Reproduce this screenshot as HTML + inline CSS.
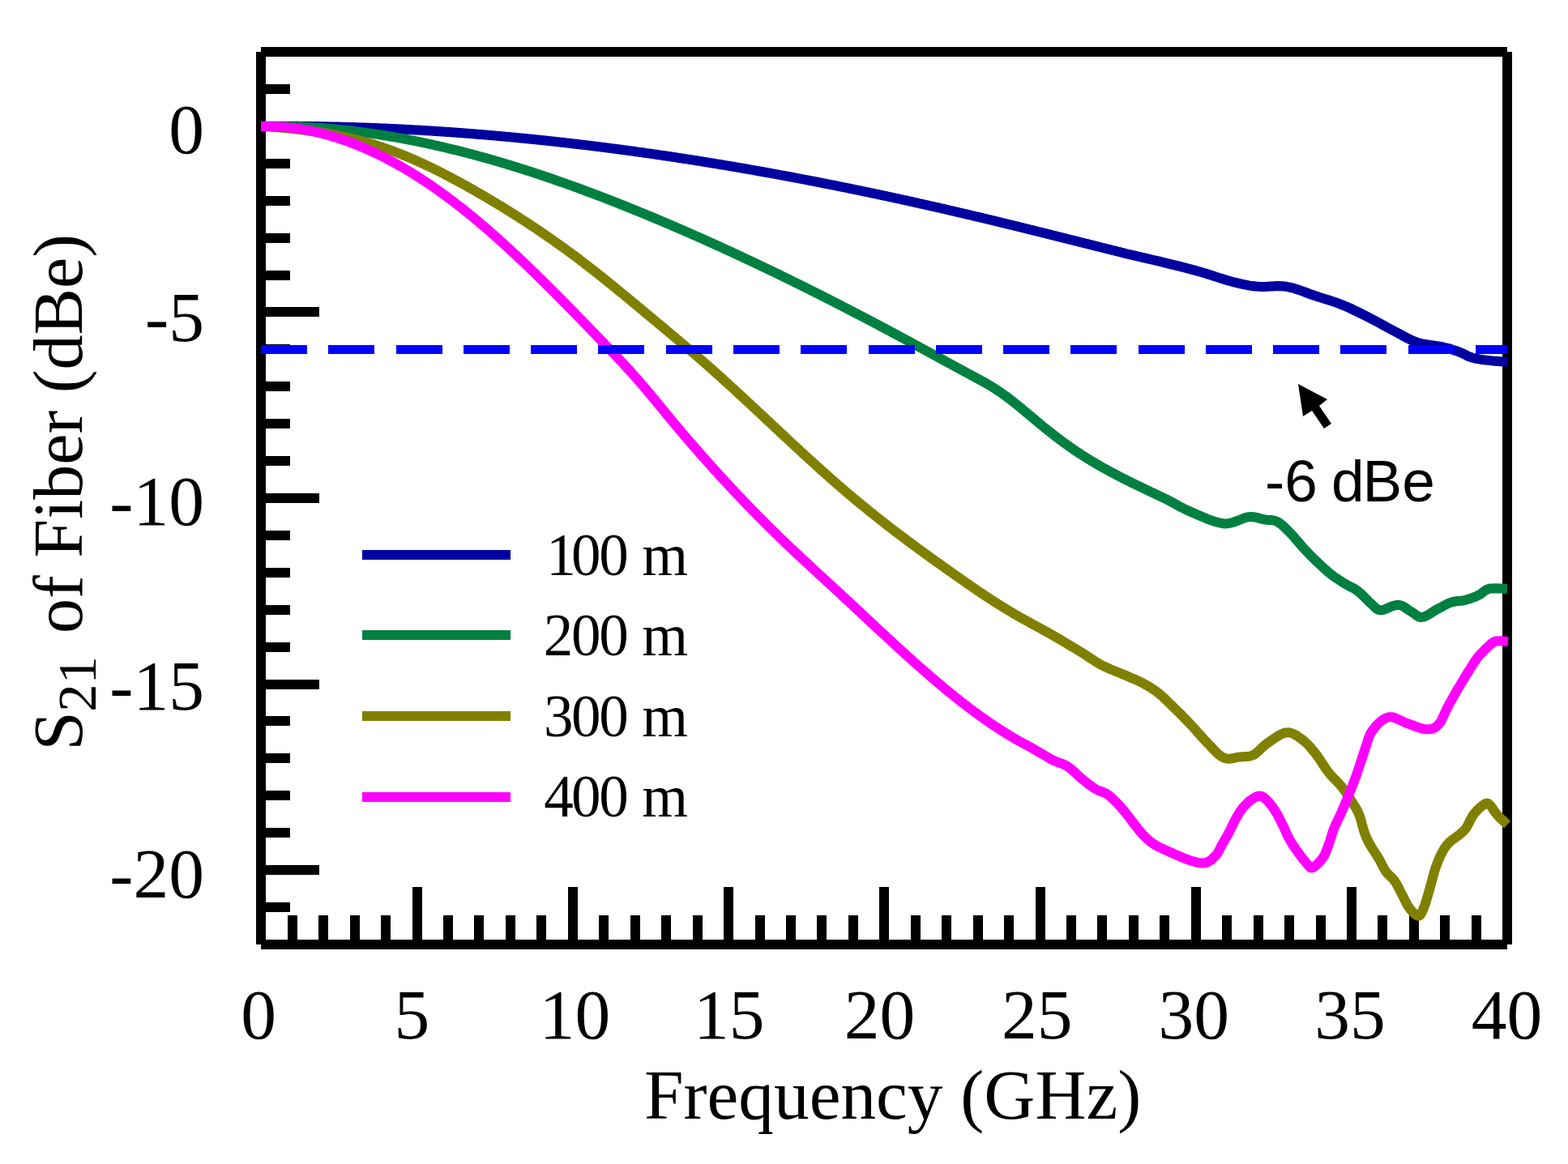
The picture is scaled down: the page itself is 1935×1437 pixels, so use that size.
<!DOCTYPE html>
<html><head><meta charset="utf-8"><title>S21 of Fiber</title>
<style>html,body{margin:0;padding:0;background:#fff;width:1935px;height:1437px;overflow:hidden}svg{display:block}</style>
</head><body>
<svg width="1935" height="1437" viewBox="0 0 1935 1437">
<path d="M322,110H358 M322,156H394 M322,202H358 M322,248H358 M322,294H358 M322,340H358 M322,385H394 M322,431H358 M322,477H358 M322,523H358 M322,569H358 M322,615H394 M322,661H358 M322,707H358 M322,753H358 M322,799H358 M322,845H394 M322,890H358 M322,936H358 M322,982H358 M322,1028H358 M322,1074H394 M322,1120H358 M361,1166V1130 M399,1166V1130 M438,1166V1130 M476,1166V1130 M515,1166V1095 M553,1166V1130 M591,1166V1130 M630,1166V1130 M668,1166V1130 M707,1166V1095 M745,1166V1130 M784,1166V1130 M822,1166V1130 M861,1166V1130 M899,1166V1095 M938,1166V1130 M976,1166V1130 M1014,1166V1130 M1053,1166V1130 M1091,1166V1095 M1130,1166V1130 M1168,1166V1130 M1207,1166V1130 M1245,1166V1130 M1284,1166V1095 M1322,1166V1130 M1360,1166V1130 M1399,1166V1130 M1437,1166V1130 M1476,1166V1095 M1514,1166V1130 M1553,1166V1130 M1591,1166V1130 M1630,1166V1130 M1668,1166V1095 M1706,1166V1130 M1745,1166V1130 M1783,1166V1130 M1822,1166V1130" stroke="#000" stroke-width="12" fill="none"/>
<path d="M322,64H1860M322,1166H1860M322,64V1166M1860,64V1166" stroke="#000" stroke-width="12" fill="none" stroke-linecap="butt"/>
<path d="M322.0,155.9 L322.9,155.9 L324.1,155.9 L325.5,155.9 L327.0,155.9 L328.6,155.9 L330.0,155.8 L331.3,155.8 L332.7,155.8 L334.0,155.8 L335.3,155.8 L336.7,155.8 L338.0,155.8 L339.3,155.8 L340.7,155.8 L342.0,155.8 L343.3,155.8 L344.7,155.8 L346.0,155.8 L347.3,155.8 L348.7,155.8 L350.0,155.8 L351.3,155.8 L352.7,155.8 L354.0,155.8 L355.3,155.8 L356.7,155.8 L358.0,155.8 L359.3,155.8 L360.7,155.8 L362.0,155.8 L363.3,155.8 L364.7,155.8 L366.0,155.8 L367.3,155.8 L368.7,155.9 L370.0,155.9 L371.3,155.9 L372.7,155.9 L374.0,155.9 L375.3,155.9 L376.7,155.9 L378.0,155.9 L379.3,155.9 L380.7,156.0 L382.0,156.0 L383.3,156.0 L384.7,156.0 L386.0,156.0 L387.3,156.0 L388.7,156.1 L390.0,156.1 L391.3,156.1 L392.7,156.1 L394.0,156.1 L395.3,156.2 L396.7,156.2 L398.0,156.2 L399.3,156.2 L400.7,156.3 L402.0,156.3 L403.3,156.3 L404.7,156.3 L406.0,156.4 L407.3,156.4 L408.7,156.4 L410.0,156.4 L411.3,156.5 L412.7,156.5 L414.0,156.5 L415.3,156.6 L416.7,156.6 L418.0,156.6 L419.3,156.7 L420.7,156.7 L422.0,156.7 L423.3,156.8 L424.7,156.8 L426.0,156.8 L427.3,156.9 L428.7,156.9 L430.0,156.9 L431.3,157.0 L432.7,157.0 L434.0,157.1 L435.3,157.1 L436.7,157.1 L438.0,157.2 L439.3,157.2 L440.7,157.3 L442.0,157.3 L443.3,157.4 L444.7,157.4 L446.0,157.4 L447.3,157.5 L448.7,157.5 L450.0,157.6 L451.3,157.6 L452.7,157.7 L454.0,157.7 L455.3,157.8 L456.7,157.8 L458.0,157.9 L459.3,157.9 L460.7,158.0 L462.0,158.0 L463.3,158.1 L464.7,158.1 L466.0,158.2 L467.3,158.2 L468.7,158.3 L470.0,158.4 L471.3,158.4 L472.7,158.5 L474.0,158.5 L475.3,158.6 L476.7,158.6 L478.0,158.7 L479.3,158.8 L480.7,158.8 L482.0,158.9 L483.3,158.9 L484.7,159.0 L486.0,159.1 L487.3,159.1 L488.7,159.2 L490.0,159.3 L491.3,159.3 L492.7,159.4 L494.0,159.5 L495.3,159.5 L496.7,159.6 L498.0,159.7 L499.3,159.7 L500.7,159.8 L502.0,159.9 L503.3,159.9 L504.7,160.0 L506.0,160.1 L507.3,160.2 L508.7,160.2 L510.0,160.3 L511.3,160.4 L512.7,160.5 L514.0,160.5 L515.3,160.6 L516.7,160.7 L518.0,160.8 L519.3,160.8 L520.7,160.9 L522.0,161.0 L523.3,161.1 L524.7,161.2 L526.0,161.2 L527.3,161.3 L528.7,161.4 L530.0,161.5 L531.3,161.6 L532.7,161.6 L534.0,161.7 L535.3,161.8 L536.7,161.9 L538.0,162.0 L539.3,162.1 L540.7,162.2 L542.0,162.2 L543.3,162.3 L544.7,162.4 L546.0,162.5 L547.3,162.6 L548.7,162.7 L550.0,162.8 L551.3,162.9 L552.7,163.0 L554.0,163.1 L555.3,163.1 L556.7,163.2 L558.0,163.3 L559.3,163.4 L560.7,163.5 L562.0,163.6 L563.3,163.7 L564.7,163.8 L566.0,163.9 L567.3,164.0 L568.7,164.1 L570.0,164.2 L571.3,164.3 L572.7,164.4 L574.0,164.5 L575.3,164.6 L576.7,164.7 L578.0,164.8 L579.3,164.9 L580.7,165.0 L582.0,165.1 L583.3,165.2 L584.7,165.3 L586.0,165.4 L587.3,165.5 L588.7,165.7 L590.0,165.8 L591.3,165.9 L592.7,166.0 L594.0,166.1 L595.3,166.2 L596.7,166.3 L598.0,166.4 L599.3,166.5 L600.7,166.6 L602.0,166.8 L603.3,166.9 L604.7,167.0 L606.0,167.1 L607.3,167.2 L608.7,167.3 L610.0,167.4 L611.3,167.6 L612.7,167.7 L614.0,167.8 L615.3,167.9 L616.7,168.0 L618.0,168.1 L619.3,168.3 L620.7,168.4 L622.0,168.5 L623.3,168.6 L624.7,168.8 L626.0,168.9 L627.3,169.0 L628.7,169.1 L630.0,169.2 L631.3,169.4 L632.7,169.5 L634.0,169.6 L635.3,169.7 L636.7,169.9 L638.0,170.0 L639.3,170.1 L640.7,170.3 L642.0,170.4 L643.3,170.5 L644.7,170.6 L646.0,170.8 L647.3,170.9 L648.7,171.0 L650.0,171.2 L651.3,171.3 L652.7,171.4 L654.0,171.6 L655.3,171.7 L656.7,171.8 L658.0,172.0 L659.3,172.1 L660.7,172.2 L662.0,172.4 L663.3,172.5 L664.7,172.7 L666.0,172.8 L667.3,172.9 L668.7,173.1 L670.0,173.2 L671.3,173.4 L672.7,173.5 L674.0,173.6 L675.3,173.8 L676.7,173.9 L678.0,174.1 L679.3,174.2 L680.7,174.4 L682.0,174.5 L683.3,174.6 L684.7,174.8 L686.0,174.9 L687.3,175.1 L688.7,175.2 L690.0,175.4 L691.3,175.5 L692.7,175.7 L694.0,175.8 L695.3,176.0 L696.7,176.1 L698.0,176.3 L699.3,176.4 L700.7,176.6 L702.0,176.7 L703.3,176.9 L704.7,177.0 L706.0,177.2 L707.3,177.4 L708.7,177.5 L710.0,177.7 L711.3,177.8 L712.7,178.0 L714.0,178.1 L715.3,178.3 L716.7,178.4 L718.0,178.6 L719.3,178.8 L720.7,178.9 L722.0,179.1 L723.3,179.2 L724.7,179.4 L726.0,179.6 L727.3,179.7 L728.7,179.9 L730.0,180.1 L731.3,180.2 L732.7,180.4 L734.0,180.6 L735.3,180.7 L736.7,180.9 L738.0,181.1 L739.3,181.2 L740.7,181.4 L742.0,181.6 L743.3,181.7 L744.7,181.9 L746.0,182.1 L747.3,182.2 L748.7,182.4 L750.0,182.6 L751.3,182.7 L752.7,182.9 L754.0,183.1 L755.3,183.3 L756.7,183.4 L758.0,183.6 L759.3,183.8 L760.7,184.0 L762.0,184.1 L763.3,184.3 L764.7,184.5 L766.0,184.7 L767.3,184.8 L768.7,185.0 L770.0,185.2 L771.3,185.4 L772.7,185.6 L774.0,185.7 L775.3,185.9 L776.7,186.1 L778.0,186.3 L779.3,186.5 L780.7,186.6 L782.0,186.8 L783.3,187.0 L784.7,187.2 L786.0,187.4 L787.3,187.6 L788.7,187.8 L790.0,187.9 L791.3,188.1 L792.7,188.3 L794.0,188.5 L795.3,188.7 L796.7,188.9 L798.0,189.1 L799.3,189.3 L800.7,189.4 L802.0,189.6 L803.3,189.8 L804.7,190.0 L806.0,190.2 L807.3,190.4 L808.7,190.6 L810.0,190.8 L811.3,191.0 L812.7,191.2 L814.0,191.4 L815.3,191.6 L816.7,191.8 L818.0,192.0 L819.3,192.2 L820.7,192.3 L822.0,192.5 L823.3,192.7 L824.7,192.9 L826.0,193.1 L827.3,193.3 L828.7,193.5 L830.0,193.7 L831.3,193.9 L832.7,194.1 L834.0,194.3 L835.3,194.5 L836.7,194.8 L838.0,195.0 L839.3,195.2 L840.7,195.4 L842.0,195.6 L843.3,195.8 L844.7,196.0 L846.0,196.2 L847.3,196.4 L848.7,196.6 L850.0,196.8 L851.3,197.0 L852.7,197.2 L854.0,197.4 L855.3,197.6 L856.7,197.8 L858.0,198.1 L859.3,198.3 L860.7,198.5 L862.0,198.7 L863.3,198.9 L864.7,199.1 L866.0,199.3 L867.3,199.5 L868.7,199.8 L870.0,200.0 L871.3,200.2 L872.7,200.4 L874.0,200.6 L875.3,200.8 L876.7,201.1 L878.0,201.3 L879.3,201.5 L880.7,201.7 L882.0,201.9 L883.3,202.1 L884.7,202.4 L886.0,202.6 L887.3,202.8 L888.7,203.0 L890.0,203.2 L891.3,203.5 L892.7,203.7 L894.0,203.9 L895.3,204.1 L896.7,204.4 L898.0,204.6 L899.3,204.8 L900.7,205.0 L902.0,205.3 L903.3,205.5 L904.7,205.7 L906.0,205.9 L907.3,206.2 L908.7,206.4 L910.0,206.6 L911.3,206.9 L912.7,207.1 L914.0,207.3 L915.3,207.5 L916.7,207.8 L918.0,208.0 L919.3,208.2 L920.7,208.5 L922.0,208.7 L923.3,208.9 L924.7,209.2 L926.0,209.4 L927.3,209.6 L928.7,209.9 L930.0,210.1 L931.3,210.3 L932.7,210.6 L934.0,210.8 L935.3,211.0 L936.7,211.3 L938.0,211.5 L939.3,211.8 L940.7,212.0 L942.0,212.2 L943.3,212.5 L944.7,212.7 L946.0,213.0 L947.3,213.2 L948.7,213.4 L950.0,213.7 L951.3,213.9 L952.7,214.2 L954.0,214.4 L955.3,214.6 L956.7,214.9 L958.0,215.1 L959.3,215.4 L960.7,215.6 L962.0,215.9 L963.3,216.1 L964.7,216.4 L966.0,216.6 L967.3,216.9 L968.7,217.1 L970.0,217.3 L971.3,217.6 L972.7,217.8 L974.0,218.1 L975.3,218.3 L976.7,218.6 L978.0,218.8 L979.3,219.1 L980.7,219.3 L982.0,219.6 L983.3,219.9 L984.7,220.1 L986.0,220.4 L987.3,220.6 L988.7,220.9 L990.0,221.1 L991.3,221.4 L992.7,221.6 L994.0,221.9 L995.3,222.1 L996.7,222.4 L998.0,222.7 L999.3,222.9 L1000.7,223.2 L1002.0,223.4 L1003.3,223.7 L1004.7,223.9 L1006.0,224.2 L1007.3,224.5 L1008.7,224.7 L1010.0,225.0 L1011.3,225.2 L1012.7,225.5 L1014.0,225.8 L1015.3,226.0 L1016.7,226.3 L1018.0,226.6 L1019.3,226.8 L1020.7,227.1 L1022.0,227.4 L1023.3,227.6 L1024.7,227.9 L1026.0,228.1 L1027.3,228.4 L1028.7,228.7 L1030.0,228.9 L1031.3,229.2 L1032.7,229.5 L1034.0,229.7 L1035.3,230.0 L1036.7,230.3 L1038.0,230.6 L1039.3,230.8 L1040.7,231.1 L1042.0,231.4 L1043.3,231.6 L1044.7,231.9 L1046.0,232.2 L1047.3,232.5 L1048.7,232.7 L1050.0,233.0 L1051.3,233.3 L1052.7,233.5 L1054.0,233.8 L1055.3,234.1 L1056.7,234.4 L1058.0,234.6 L1059.3,234.9 L1060.7,235.2 L1062.0,235.5 L1063.3,235.7 L1064.7,236.0 L1066.0,236.3 L1067.3,236.6 L1068.7,236.9 L1070.0,237.1 L1071.3,237.4 L1072.7,237.7 L1074.0,238.0 L1075.3,238.3 L1076.7,238.5 L1078.0,238.8 L1079.3,239.1 L1080.7,239.4 L1082.0,239.7 L1083.3,240.0 L1084.7,240.2 L1086.0,240.5 L1087.3,240.8 L1088.7,241.1 L1090.0,241.4 L1091.3,241.7 L1092.7,241.9 L1094.0,242.2 L1095.3,242.5 L1096.7,242.8 L1098.0,243.1 L1099.3,243.4 L1100.7,243.7 L1102.0,244.0 L1103.3,244.2 L1104.7,244.5 L1106.0,244.8 L1107.3,245.1 L1108.7,245.4 L1110.0,245.7 L1111.3,246.0 L1112.7,246.3 L1114.0,246.6 L1115.3,246.9 L1116.7,247.1 L1118.0,247.4 L1119.3,247.7 L1120.7,248.0 L1122.0,248.3 L1123.3,248.6 L1124.7,248.9 L1126.0,249.2 L1127.3,249.5 L1128.7,249.8 L1130.0,250.1 L1131.3,250.4 L1132.7,250.7 L1134.0,251.0 L1135.3,251.3 L1136.7,251.6 L1138.0,251.9 L1139.3,252.2 L1140.7,252.5 L1142.0,252.8 L1143.3,253.1 L1144.7,253.4 L1146.0,253.7 L1147.3,254.0 L1148.7,254.3 L1150.0,254.6 L1151.3,254.9 L1152.7,255.2 L1154.0,255.5 L1155.3,255.8 L1156.7,256.1 L1158.0,256.4 L1159.3,256.7 L1160.7,257.0 L1162.0,257.3 L1163.3,257.6 L1164.7,257.9 L1166.0,258.2 L1167.3,258.5 L1168.7,258.9 L1170.0,259.2 L1171.3,259.5 L1172.7,259.8 L1174.0,260.1 L1175.3,260.4 L1176.7,260.7 L1178.0,261.0 L1179.3,261.3 L1180.7,261.6 L1182.0,261.9 L1183.3,262.3 L1184.7,262.6 L1186.0,262.9 L1187.3,263.2 L1188.7,263.5 L1190.0,263.8 L1191.3,264.1 L1192.7,264.4 L1194.0,264.8 L1195.3,265.1 L1196.7,265.4 L1198.0,265.7 L1199.3,266.0 L1200.7,266.3 L1202.0,266.6 L1203.3,267.0 L1204.7,267.3 L1206.0,267.6 L1207.3,267.9 L1208.7,268.2 L1210.0,268.5 L1211.3,268.9 L1212.7,269.2 L1214.0,269.5 L1215.3,269.8 L1216.7,270.1 L1218.0,270.5 L1219.3,270.8 L1220.7,271.1 L1222.0,271.4 L1223.3,271.7 L1224.7,272.1 L1226.0,272.4 L1227.3,272.7 L1228.7,273.0 L1230.0,273.4 L1231.3,273.7 L1232.7,274.0 L1234.0,274.3 L1235.3,274.7 L1236.7,275.0 L1238.0,275.3 L1239.3,275.6 L1240.7,275.9 L1242.0,276.3 L1243.3,276.6 L1244.7,276.9 L1246.0,277.3 L1247.3,277.6 L1248.7,277.9 L1250.0,278.2 L1251.3,278.6 L1252.7,278.9 L1254.0,279.2 L1255.3,279.5 L1256.7,279.9 L1258.0,280.2 L1259.3,280.5 L1260.7,280.9 L1262.0,281.2 L1263.3,281.5 L1264.7,281.8 L1266.0,282.2 L1267.3,282.5 L1268.7,282.8 L1270.0,283.2 L1271.3,283.5 L1272.7,283.8 L1274.0,284.1 L1275.3,284.5 L1276.7,284.8 L1278.0,285.1 L1279.3,285.5 L1280.7,285.8 L1282.0,286.1 L1283.3,286.5 L1284.7,286.8 L1286.0,287.1 L1287.3,287.5 L1288.7,287.8 L1290.0,288.1 L1291.3,288.5 L1292.7,288.8 L1294.0,289.1 L1295.3,289.4 L1296.7,289.8 L1298.0,290.1 L1299.3,290.4 L1300.7,290.8 L1302.0,291.1 L1303.3,291.4 L1304.7,291.8 L1306.0,292.1 L1307.3,292.4 L1308.7,292.8 L1310.0,293.1 L1311.3,293.4 L1312.7,293.8 L1314.0,294.1 L1315.3,294.4 L1316.7,294.8 L1318.0,295.1 L1319.3,295.5 L1320.7,295.8 L1322.0,296.1 L1323.3,296.5 L1324.7,296.8 L1326.0,297.1 L1327.3,297.5 L1328.7,297.8 L1330.0,298.1 L1331.3,298.5 L1332.7,298.8 L1334.0,299.1 L1335.3,299.5 L1336.7,299.8 L1338.0,300.1 L1339.3,300.5 L1340.7,300.8 L1342.0,301.1 L1343.3,301.5 L1344.7,301.8 L1346.0,302.1 L1347.3,302.5 L1348.7,302.8 L1350.0,303.1 L1351.3,303.5 L1352.7,303.8 L1354.0,304.2 L1355.3,304.5 L1356.7,304.8 L1358.0,305.2 L1359.3,305.5 L1360.7,305.8 L1362.0,306.2 L1363.3,306.5 L1364.7,306.8 L1366.0,307.2 L1367.3,307.5 L1368.7,307.8 L1370.0,308.2 L1371.3,308.5 L1372.7,308.8 L1374.0,309.2 L1375.3,309.5 L1376.7,309.8 L1378.0,310.2 L1379.3,310.5 L1380.7,310.8 L1382.0,311.2 L1383.3,311.5 L1384.7,311.8 L1386.0,312.2 L1387.0,312.4 L1387.6,312.6 L1388.2,312.8 L1389.2,313.0 L1391.0,313.5 L1394.0,314.2 L1398.3,315.2 L1403.6,316.4 L1409.8,317.8 L1416.5,319.3 L1423.5,321.0 L1430.7,322.7 L1438.3,324.6 L1446.5,326.6 L1455.1,328.7 L1463.7,330.9 L1472.1,333.1 L1480.0,335.3 L1487.5,337.5 L1494.7,339.8 L1501.8,342.1 L1508.6,344.3 L1515.1,346.3 L1521.3,348.0 L1527.0,349.4 L1532.3,350.7 L1537.2,351.7 L1542.1,352.6 L1547.1,353.2 L1552.4,353.8 L1558.0,354.0 L1563.7,353.8 L1569.6,353.4 L1575.5,353.1 L1581.5,353.2 L1587.5,353.8 L1593.7,355.1 L1600.0,357.0 L1606.4,359.2 L1612.7,361.5 L1618.8,363.8 L1624.7,365.8 L1630.2,367.6 L1635.5,369.2 L1640.6,370.8 L1645.6,372.4 L1650.6,374.2 L1655.7,376.1 L1660.9,378.2 L1666.0,380.5 L1671.2,383.0 L1676.4,385.5 L1681.5,388.0 L1686.7,390.6 L1691.9,393.3 L1697.0,396.0 L1702.2,398.8 L1707.4,401.7 L1712.5,404.5 L1717.7,407.2 L1722.9,410.0 L1728.0,412.8 L1733.2,415.6 L1738.4,418.3 L1743.5,420.7 L1748.7,422.7 L1754.0,424.2 L1759.4,425.2 L1764.8,426.0 L1770.1,426.7 L1775.1,427.4 L1779.7,428.2 L1783.7,429.2 L1787.4,430.1 L1790.7,431.1 L1793.9,432.2 L1797.1,433.2 L1800.4,434.4 L1803.6,435.7 L1806.6,437.2 L1809.6,438.7 L1812.8,440.2 L1816.5,441.5 L1821.0,442.7 L1826.9,443.7 L1834.1,444.6 L1841.8,445.4 L1849.2,446.0 L1855.5,446.6 L1860.0,447.0" fill="none" stroke="#0000a0" stroke-width="12" stroke-linejoin="round" stroke-linecap="butt"/>
<path d="M322.0,156.2 L322.9,156.2 L324.1,156.2 L325.5,156.2 L327.0,156.1 L328.6,156.1 L330.0,156.1 L331.3,156.1 L332.7,156.1 L334.0,156.0 L335.3,156.0 L336.7,156.0 L338.0,156.0 L339.3,156.0 L340.7,156.0 L342.0,156.0 L343.3,156.0 L344.7,156.0 L346.0,156.1 L347.3,156.1 L348.7,156.1 L350.0,156.1 L351.3,156.1 L352.7,156.1 L354.0,156.2 L355.3,156.2 L356.7,156.2 L358.0,156.2 L359.3,156.3 L360.7,156.3 L362.0,156.4 L363.3,156.4 L364.7,156.4 L366.0,156.5 L367.3,156.5 L368.7,156.6 L370.0,156.6 L371.3,156.7 L372.7,156.7 L374.0,156.8 L375.3,156.9 L376.7,156.9 L378.0,157.0 L379.3,157.0 L380.7,157.1 L382.0,157.2 L383.3,157.3 L384.7,157.3 L386.0,157.4 L387.3,157.5 L388.7,157.6 L390.0,157.7 L391.3,157.7 L392.7,157.8 L394.0,157.9 L395.3,158.0 L396.7,158.1 L398.0,158.2 L399.3,158.3 L400.7,158.4 L402.0,158.5 L403.3,158.6 L404.7,158.7 L406.0,158.8 L407.3,159.0 L408.7,159.1 L410.0,159.2 L411.3,159.3 L412.7,159.4 L414.0,159.5 L415.3,159.7 L416.7,159.8 L418.0,159.9 L419.3,160.1 L420.7,160.2 L422.0,160.3 L423.3,160.5 L424.7,160.6 L426.0,160.7 L427.3,160.9 L428.7,161.0 L430.0,161.2 L431.3,161.3 L432.7,161.5 L434.0,161.6 L435.3,161.8 L436.7,161.9 L438.0,162.1 L439.3,162.3 L440.7,162.4 L442.0,162.6 L443.3,162.8 L444.7,162.9 L446.0,163.1 L447.3,163.3 L448.7,163.5 L450.0,163.6 L451.3,163.8 L452.7,164.0 L454.0,164.2 L455.3,164.4 L456.7,164.6 L458.0,164.7 L459.3,164.9 L460.7,165.1 L462.0,165.3 L463.3,165.5 L464.7,165.7 L466.0,165.9 L467.3,166.1 L468.7,166.3 L470.0,166.5 L471.3,166.8 L472.7,167.0 L474.0,167.2 L475.3,167.4 L476.7,167.6 L478.0,167.8 L479.3,168.0 L480.7,168.3 L482.0,168.5 L483.3,168.7 L484.7,168.9 L486.0,169.2 L487.3,169.4 L488.7,169.6 L490.0,169.9 L491.3,170.1 L492.7,170.4 L494.0,170.6 L495.3,170.8 L496.7,171.1 L498.0,171.3 L499.3,171.6 L500.7,171.8 L502.0,172.1 L503.3,172.3 L504.7,172.6 L506.0,172.8 L507.3,173.1 L508.7,173.4 L510.0,173.6 L511.3,173.9 L512.7,174.2 L514.0,174.4 L515.3,174.7 L516.7,175.0 L518.0,175.2 L519.3,175.5 L520.7,175.8 L522.0,176.1 L523.3,176.4 L524.7,176.6 L526.0,176.9 L527.3,177.2 L528.7,177.5 L530.0,177.8 L531.3,178.1 L532.7,178.4 L534.0,178.7 L535.3,179.0 L536.7,179.3 L538.0,179.6 L539.3,179.9 L540.7,180.2 L542.0,180.5 L543.3,180.8 L544.7,181.1 L546.0,181.4 L547.3,181.7 L548.7,182.0 L550.0,182.3 L551.3,182.6 L552.7,183.0 L554.0,183.3 L555.3,183.6 L556.7,183.9 L558.0,184.3 L559.3,184.6 L560.7,184.9 L562.0,185.2 L563.3,185.6 L564.7,185.9 L566.0,186.2 L567.3,186.6 L568.7,186.9 L570.0,187.2 L571.3,187.6 L572.7,187.9 L574.0,188.3 L575.3,188.6 L576.7,189.0 L578.0,189.3 L579.3,189.7 L580.7,190.0 L582.0,190.4 L583.3,190.7 L584.7,191.1 L586.0,191.4 L587.3,191.8 L588.7,192.2 L590.0,192.5 L591.3,192.9 L592.7,193.3 L594.0,193.6 L595.3,194.0 L596.7,194.4 L598.0,194.7 L599.3,195.1 L600.7,195.5 L602.0,195.9 L603.3,196.2 L604.7,196.6 L606.0,197.0 L607.3,197.4 L608.7,197.8 L610.0,198.2 L611.3,198.5 L612.7,198.9 L614.0,199.3 L615.3,199.7 L616.7,200.1 L618.0,200.5 L619.3,200.9 L620.7,201.3 L622.0,201.7 L623.3,202.1 L624.7,202.5 L626.0,202.9 L627.3,203.3 L628.7,203.7 L630.0,204.1 L631.3,204.5 L632.7,204.9 L634.0,205.3 L635.3,205.8 L636.7,206.2 L638.0,206.6 L639.3,207.0 L640.7,207.4 L642.0,207.8 L643.3,208.3 L644.7,208.7 L646.0,209.1 L647.3,209.5 L648.7,210.0 L650.0,210.4 L651.3,210.8 L652.7,211.2 L654.0,211.7 L655.3,212.1 L656.7,212.5 L658.0,213.0 L659.3,213.4 L660.7,213.9 L662.0,214.3 L663.3,214.7 L664.7,215.2 L666.0,215.6 L667.3,216.1 L668.7,216.5 L670.0,217.0 L671.3,217.4 L672.7,217.9 L674.0,218.3 L675.3,218.8 L676.7,219.2 L678.0,219.7 L679.3,220.1 L680.7,220.6 L682.0,221.0 L683.3,221.5 L684.7,222.0 L686.0,222.4 L687.3,222.9 L688.7,223.4 L690.0,223.8 L691.3,224.3 L692.7,224.8 L694.0,225.2 L695.3,225.7 L696.7,226.2 L698.0,226.6 L699.3,227.1 L700.7,227.6 L702.0,228.1 L703.3,228.6 L704.7,229.0 L706.0,229.5 L707.3,230.0 L708.7,230.5 L710.0,231.0 L711.3,231.4 L712.7,231.9 L714.0,232.4 L715.3,232.9 L716.7,233.4 L718.0,233.9 L719.3,234.4 L720.7,234.9 L722.0,235.4 L723.3,235.9 L724.7,236.4 L726.0,236.9 L727.3,237.4 L728.7,237.9 L730.0,238.4 L731.3,238.9 L732.7,239.4 L734.0,239.9 L735.3,240.4 L736.7,240.9 L738.0,241.4 L739.3,241.9 L740.7,242.4 L742.0,242.9 L743.3,243.4 L744.7,243.9 L746.0,244.5 L747.3,245.0 L748.7,245.5 L750.0,246.0 L751.3,246.5 L752.7,247.0 L754.0,247.6 L755.3,248.1 L756.7,248.6 L758.0,249.1 L759.3,249.7 L760.7,250.2 L762.0,250.7 L763.3,251.2 L764.7,251.8 L766.0,252.3 L767.3,252.8 L768.7,253.3 L770.0,253.9 L771.3,254.4 L772.7,254.9 L774.0,255.5 L775.3,256.0 L776.7,256.6 L778.0,257.1 L779.3,257.6 L780.7,258.2 L782.0,258.7 L783.3,259.3 L784.7,259.8 L786.0,260.3 L787.3,260.9 L788.7,261.4 L790.0,262.0 L791.3,262.5 L792.7,263.1 L794.0,263.6 L795.3,264.2 L796.7,264.7 L798.0,265.3 L799.3,265.8 L800.7,266.4 L802.0,266.9 L803.3,267.5 L804.7,268.0 L806.0,268.6 L807.3,269.1 L808.7,269.7 L810.0,270.3 L811.3,270.8 L812.7,271.4 L814.0,271.9 L815.3,272.5 L816.7,273.1 L818.0,273.6 L819.3,274.2 L820.7,274.8 L822.0,275.3 L823.3,275.9 L824.7,276.5 L826.0,277.0 L827.3,277.6 L828.7,278.2 L830.0,278.8 L831.3,279.3 L832.7,279.9 L834.0,280.5 L835.3,281.1 L836.7,281.6 L838.0,282.2 L839.3,282.8 L840.7,283.4 L842.0,283.9 L843.3,284.5 L844.7,285.1 L846.0,285.7 L847.3,286.3 L848.7,286.8 L850.0,287.4 L851.3,288.0 L852.7,288.6 L854.0,289.2 L855.3,289.8 L856.7,290.4 L858.0,291.0 L859.3,291.5 L860.7,292.1 L862.0,292.7 L863.3,293.3 L864.7,293.9 L866.0,294.5 L867.3,295.1 L868.7,295.7 L870.0,296.3 L871.3,296.9 L872.7,297.5 L874.0,298.1 L875.3,298.7 L876.7,299.3 L878.0,299.9 L879.3,300.5 L880.7,301.1 L882.0,301.7 L883.3,302.3 L884.7,302.9 L886.0,303.5 L887.3,304.1 L888.7,304.7 L890.0,305.3 L891.3,305.9 L892.7,306.5 L894.0,307.2 L895.3,307.8 L896.7,308.4 L898.0,309.0 L899.3,309.6 L900.7,310.2 L902.0,310.8 L903.3,311.5 L904.7,312.1 L906.0,312.7 L907.3,313.3 L908.7,313.9 L910.0,314.5 L911.3,315.2 L912.7,315.8 L914.0,316.4 L915.3,317.0 L916.7,317.7 L918.0,318.3 L919.3,318.9 L920.7,319.5 L922.0,320.2 L923.3,320.8 L924.7,321.4 L926.0,322.0 L927.3,322.7 L928.7,323.3 L930.0,323.9 L931.3,324.6 L932.7,325.2 L934.0,325.8 L935.3,326.5 L936.7,327.1 L938.0,327.7 L939.3,328.4 L940.7,329.0 L942.0,329.6 L943.3,330.3 L944.7,330.9 L946.0,331.5 L947.3,332.2 L948.7,332.8 L950.0,333.5 L951.3,334.1 L952.7,334.8 L954.0,335.4 L955.3,336.0 L956.7,336.7 L958.0,337.3 L959.3,338.0 L960.7,338.6 L962.0,339.3 L963.3,339.9 L964.7,340.6 L966.0,341.2 L967.3,341.9 L968.7,342.5 L970.0,343.2 L971.3,343.8 L972.7,344.5 L974.0,345.1 L975.3,345.8 L976.7,346.4 L978.0,347.1 L979.3,347.8 L980.7,348.4 L982.0,349.1 L983.3,349.7 L984.7,350.4 L986.0,351.0 L987.3,351.7 L988.7,352.4 L990.0,353.0 L991.3,353.7 L992.7,354.4 L994.0,355.0 L995.3,355.7 L996.7,356.4 L998.0,357.0 L999.3,357.7 L1000.7,358.4 L1002.0,359.0 L1003.3,359.7 L1004.7,360.4 L1006.0,361.0 L1007.3,361.7 L1008.7,362.4 L1010.0,363.0 L1011.3,363.7 L1012.7,364.4 L1014.0,365.1 L1015.3,365.7 L1016.7,366.4 L1018.0,367.1 L1019.3,367.8 L1020.7,368.4 L1022.0,369.1 L1023.3,369.8 L1024.7,370.5 L1026.0,371.1 L1027.3,371.8 L1028.7,372.5 L1030.0,373.2 L1031.3,373.9 L1032.7,374.6 L1034.0,375.2 L1035.3,375.9 L1036.7,376.6 L1038.0,377.3 L1039.3,378.0 L1040.7,378.7 L1042.0,379.4 L1043.3,380.0 L1044.7,380.7 L1046.0,381.4 L1047.3,382.1 L1048.7,382.8 L1050.0,383.5 L1051.3,384.2 L1052.7,384.9 L1054.0,385.6 L1055.3,386.3 L1056.7,386.9 L1058.0,387.6 L1059.3,388.3 L1060.7,389.0 L1062.0,389.7 L1063.3,390.4 L1064.7,391.1 L1066.0,391.8 L1067.3,392.5 L1068.7,393.2 L1070.0,393.9 L1071.3,394.6 L1072.7,395.3 L1074.0,396.0 L1075.3,396.7 L1076.7,397.4 L1078.0,398.1 L1079.3,398.8 L1080.7,399.5 L1082.0,400.2 L1083.3,400.9 L1084.7,401.6 L1086.0,402.3 L1087.3,403.1 L1088.7,403.8 L1090.0,404.5 L1091.3,405.2 L1092.7,405.9 L1094.0,406.6 L1095.3,407.3 L1096.7,408.0 L1098.0,408.7 L1099.3,409.4 L1100.7,410.2 L1102.0,410.9 L1103.3,411.6 L1104.7,412.3 L1106.0,413.0 L1107.3,413.7 L1108.7,414.4 L1110.0,415.2 L1111.3,415.9 L1112.7,416.6 L1114.0,417.3 L1115.3,418.0 L1116.7,418.7 L1118.0,419.5 L1119.3,420.2 L1120.7,420.9 L1122.0,421.6 L1123.3,422.3 L1124.7,423.1 L1126.0,423.8 L1127.3,424.5 L1128.7,425.2 L1130.0,426.0 L1131.3,426.7 L1132.7,427.4 L1134.0,428.1 L1135.3,428.9 L1136.7,429.6 L1138.0,430.3 L1139.3,431.0 L1140.7,431.8 L1142.0,432.5 L1143.3,433.2 L1144.7,433.9 L1146.0,434.7 L1147.3,435.4 L1148.7,436.1 L1150.0,436.8 L1151.3,437.6 L1152.7,438.3 L1154.0,439.0 L1155.3,439.7 L1156.7,440.5 L1158.0,441.2 L1159.3,441.9 L1160.7,442.7 L1162.0,443.4 L1163.3,444.1 L1164.7,444.8 L1166.0,445.6 L1167.3,446.3 L1168.7,447.0 L1170.0,447.7 L1171.3,448.5 L1172.7,449.2 L1174.0,449.9 L1175.3,450.6 L1176.7,451.4 L1178.0,452.1 L1179.3,452.8 L1180.7,453.5 L1182.0,454.3 L1183.3,455.0 L1184.7,455.7 L1186.0,456.4 L1187.3,457.1 L1188.7,457.9 L1190.0,458.6 L1191.3,459.3 L1192.7,460.0 L1194.0,460.7 L1195.3,461.5 L1196.7,462.2 L1198.0,462.9 L1199.3,463.6 L1200.7,464.3 L1202.0,465.0 L1203.3,465.7 L1204.7,466.5 L1206.0,467.2 L1207.3,467.9 L1208.7,468.6 L1210.0,469.3 L1211.3,470.1 L1212.7,470.8 L1214.0,471.6 L1215.3,472.3 L1216.7,473.1 L1218.0,473.8 L1219.3,474.6 L1220.7,475.4 L1222.0,476.2 L1223.3,477.0 L1224.7,477.8 L1226.0,478.6 L1227.3,479.5 L1228.7,480.3 L1230.0,481.2 L1231.3,482.1 L1232.7,483.0 L1234.0,483.9 L1235.3,484.8 L1236.7,485.7 L1238.0,486.7 L1239.3,487.7 L1240.7,488.6 L1242.0,489.6 L1243.3,490.6 L1244.7,491.6 L1246.0,492.6 L1247.3,493.7 L1248.7,494.7 L1250.0,495.7 L1251.3,496.8 L1252.7,497.9 L1254.0,498.9 L1255.3,500.0 L1256.7,501.1 L1258.0,502.2 L1259.3,503.2 L1260.7,504.3 L1262.0,505.4 L1263.3,506.6 L1264.7,507.7 L1266.0,508.8 L1267.3,509.9 L1268.7,511.0 L1270.0,512.1 L1271.3,513.2 L1272.7,514.4 L1274.0,515.5 L1275.3,516.6 L1276.7,517.7 L1278.0,518.8 L1279.3,519.9 L1280.7,521.0 L1282.0,522.2 L1283.3,523.3 L1284.7,524.4 L1286.0,525.5 L1287.3,526.6 L1288.7,527.7 L1290.0,528.7 L1291.3,529.8 L1292.7,530.9 L1294.0,532.0 L1295.3,533.0 L1296.7,534.1 L1298.0,535.1 L1299.3,536.2 L1300.7,537.2 L1302.0,538.2 L1303.3,539.3 L1304.7,540.3 L1306.0,541.3 L1307.3,542.3 L1308.7,543.3 L1310.0,544.3 L1311.3,545.3 L1312.7,546.3 L1314.0,547.2 L1315.3,548.2 L1316.7,549.1 L1318.0,550.1 L1319.3,551.0 L1320.7,552.0 L1322.0,552.9 L1323.3,553.8 L1324.7,554.8 L1326.0,555.7 L1327.3,556.6 L1328.7,557.5 L1330.0,558.3 L1331.3,559.2 L1332.7,560.1 L1334.0,561.0 L1335.3,561.8 L1336.7,562.7 L1338.0,563.5 L1339.3,564.4 L1340.7,565.2 L1342.0,566.0 L1343.3,566.9 L1344.7,567.7 L1346.0,568.5 L1347.3,569.3 L1348.7,570.1 L1350.0,570.9 L1351.3,571.7 L1352.7,572.5 L1354.0,573.2 L1355.3,574.0 L1356.7,574.8 L1358.0,575.5 L1359.3,576.3 L1360.7,577.0 L1362.0,577.8 L1363.3,578.5 L1364.7,579.3 L1366.0,580.0 L1367.3,580.7 L1368.7,581.5 L1370.0,582.2 L1371.3,582.9 L1372.7,583.6 L1374.0,584.3 L1375.3,585.0 L1376.7,585.7 L1378.0,586.4 L1379.3,587.1 L1380.7,587.8 L1382.0,588.5 L1383.3,589.2 L1384.7,589.9 L1386.0,590.6 L1387.3,591.2 L1388.7,591.9 L1390.0,592.6 L1391.3,593.3 L1392.7,593.9 L1394.0,594.6 L1395.3,595.2 L1396.7,595.9 L1398.0,596.6 L1399.3,597.2 L1400.7,597.9 L1402.0,598.5 L1403.3,599.2 L1404.7,599.8 L1406.0,600.5 L1407.3,601.1 L1408.7,601.7 L1410.0,602.4 L1411.3,603.0 L1412.7,603.7 L1414.0,604.3 L1415.3,604.9 L1416.7,605.6 L1418.0,606.2 L1419.3,606.8 L1420.7,607.5 L1422.0,608.1 L1423.3,608.7 L1424.7,609.4 L1426.0,610.0 L1427.3,610.6 L1428.7,611.3 L1430.0,611.9 L1431.3,612.6 L1432.7,613.2 L1434.0,613.8 L1435.1,614.3 L1436.0,614.7 L1436.8,615.1 L1437.9,615.6 L1439.6,616.4 L1442.0,617.7 L1445.2,619.4 L1449.0,621.5 L1453.3,623.9 L1458.0,626.4 L1463.2,629.0 L1468.7,631.5 L1474.9,634.2 L1481.8,637.2 L1489.1,640.3 L1496.5,643.1 L1503.5,645.2 L1510.0,646.4 L1515.9,646.2 L1521.5,645.0 L1526.9,643.0 L1531.9,641.0 L1536.6,639.2 L1541.0,638.2 L1544.9,638.1 L1548.3,638.4 L1551.4,639.1 L1554.3,639.9 L1557.1,640.7 L1560.0,641.3 L1562.9,641.7 L1565.7,641.9 L1568.4,642.0 L1571.1,642.4 L1573.8,643.0 L1576.5,644.2 L1579.2,645.9 L1582.0,648.0 L1584.7,650.4 L1587.5,653.1 L1590.2,655.9 L1593.0,658.7 L1595.8,661.6 L1598.5,664.8 L1601.3,668.1 L1604.1,671.4 L1606.8,674.6 L1609.6,677.7 L1612.4,680.6 L1615.1,683.5 L1617.8,686.3 L1620.6,689.0 L1623.3,691.7 L1626.1,694.3 L1628.9,696.9 L1631.6,699.5 L1634.4,702.0 L1637.2,704.5 L1639.9,706.9 L1642.7,709.1 L1645.5,711.2 L1648.2,713.2 L1651.0,715.0 L1653.7,716.8 L1656.4,718.6 L1659.2,720.3 L1662.0,721.9 L1664.7,723.4 L1667.5,724.8 L1670.3,726.2 L1673.0,727.9 L1675.8,729.8 L1678.6,732.1 L1681.5,734.9 L1684.4,737.8 L1687.2,740.6 L1689.8,743.3 L1692.3,745.5 L1694.4,747.4 L1696.2,749.2 L1697.8,750.8 L1699.5,752.1 L1701.5,752.9 L1703.9,753.3 L1707.0,752.9 L1710.5,751.6 L1714.3,749.9 L1718.2,748.3 L1722.0,747.1 L1725.4,746.7 L1728.5,747.3 L1731.4,748.5 L1734.2,750.2 L1736.8,752.1 L1739.4,753.9 L1741.9,755.4 L1744.2,756.8 L1746.3,758.4 L1748.3,759.9 L1750.3,761.2 L1752.6,761.9 L1755.1,762.0 L1758.1,761.2 L1761.4,759.6 L1764.8,757.6 L1768.4,755.3 L1771.8,753.1 L1775.0,751.3 L1777.9,749.8 L1780.8,748.3 L1783.5,746.8 L1786.1,745.5 L1788.8,744.4 L1791.5,743.4 L1794.2,742.7 L1797.0,742.3 L1799.7,742.0 L1802.5,741.8 L1805.2,741.5 L1808.0,740.9 L1810.8,740.1 L1813.7,739.2 L1816.5,738.2 L1819.3,737.1 L1822.0,736.0 L1824.6,734.8 L1826.9,733.5 L1828.9,732.0 L1830.8,730.4 L1832.9,728.9 L1835.1,727.7 L1837.8,726.8 L1841.2,726.4 L1845.4,726.3 L1849.7,726.4 L1853.9,726.6 L1857.5,726.9 L1860.0,727.0" fill="none" stroke="#008040" stroke-width="12" stroke-linejoin="round" stroke-linecap="butt"/>
<path d="M322.0,155.8 L322.9,155.8 L324.1,155.9 L325.5,156.0 L327.0,156.1 L328.6,156.2 L330.0,156.3 L331.3,156.4 L332.7,156.5 L334.0,156.6 L335.3,156.7 L336.7,156.8 L338.0,156.9 L339.3,157.0 L340.7,157.1 L342.0,157.2 L343.3,157.3 L344.7,157.5 L346.0,157.6 L347.3,157.7 L348.7,157.8 L350.0,157.9 L351.3,158.0 L352.7,158.2 L354.0,158.3 L355.3,158.4 L356.7,158.6 L358.0,158.7 L359.3,158.8 L360.7,159.0 L362.0,159.1 L363.3,159.2 L364.7,159.4 L366.0,159.5 L367.3,159.7 L368.7,159.8 L370.0,160.0 L371.3,160.2 L372.7,160.3 L374.0,160.5 L375.3,160.6 L376.7,160.8 L378.0,161.0 L379.3,161.2 L380.7,161.3 L382.0,161.5 L383.3,161.7 L384.7,161.9 L386.0,162.1 L387.3,162.3 L388.7,162.4 L390.0,162.6 L391.3,162.8 L392.7,163.0 L394.0,163.3 L395.3,163.5 L396.7,163.7 L398.0,163.9 L399.3,164.1 L400.7,164.3 L402.0,164.6 L403.3,164.8 L404.7,165.0 L406.0,165.2 L407.3,165.5 L408.7,165.7 L410.0,166.0 L411.3,166.2 L412.7,166.5 L414.0,166.7 L415.3,167.0 L416.7,167.3 L418.0,167.5 L419.3,167.8 L420.7,168.1 L422.0,168.4 L423.3,168.6 L424.7,168.9 L426.0,169.2 L427.3,169.5 L428.7,169.8 L430.0,170.1 L431.3,170.4 L432.7,170.7 L434.0,171.1 L435.3,171.4 L436.7,171.7 L438.0,172.0 L439.3,172.4 L440.7,172.7 L442.0,173.0 L443.3,173.4 L444.7,173.7 L446.0,174.1 L447.3,174.4 L448.7,174.8 L450.0,175.2 L451.3,175.5 L452.7,175.9 L454.0,176.3 L455.3,176.7 L456.7,177.1 L458.0,177.5 L459.3,177.9 L460.7,178.3 L462.0,178.7 L463.3,179.1 L464.7,179.5 L466.0,180.0 L467.3,180.4 L468.7,180.8 L470.0,181.3 L471.3,181.7 L472.7,182.2 L474.0,182.6 L475.3,183.1 L476.7,183.5 L478.0,184.0 L479.3,184.5 L480.7,185.0 L482.0,185.5 L483.3,185.9 L484.7,186.4 L486.0,186.9 L487.3,187.4 L488.7,188.0 L490.0,188.5 L491.3,189.0 L492.7,189.5 L494.0,190.0 L495.3,190.6 L496.7,191.1 L498.0,191.7 L499.3,192.2 L500.7,192.7 L502.0,193.3 L503.3,193.9 L504.7,194.4 L506.0,195.0 L507.3,195.6 L508.7,196.1 L510.0,196.7 L511.3,197.3 L512.7,197.9 L514.0,198.5 L515.3,199.1 L516.7,199.7 L518.0,200.3 L519.3,200.9 L520.7,201.5 L522.0,202.1 L523.3,202.7 L524.7,203.4 L526.0,204.0 L527.3,204.6 L528.7,205.2 L530.0,205.9 L531.3,206.5 L532.7,207.2 L534.0,207.8 L535.3,208.5 L536.7,209.1 L538.0,209.8 L539.3,210.4 L540.7,211.1 L542.0,211.8 L543.3,212.5 L544.7,213.1 L546.0,213.8 L547.3,214.5 L548.7,215.2 L550.0,215.9 L551.3,216.6 L552.7,217.2 L554.0,217.9 L555.3,218.6 L556.7,219.3 L558.0,220.1 L559.3,220.8 L560.7,221.5 L562.0,222.2 L563.3,222.9 L564.7,223.6 L566.0,224.4 L567.3,225.1 L568.7,225.8 L570.0,226.5 L571.3,227.3 L572.7,228.0 L574.0,228.7 L575.3,229.5 L576.7,230.2 L578.0,231.0 L579.3,231.7 L580.7,232.5 L582.0,233.2 L583.3,234.0 L584.7,234.7 L586.0,235.5 L587.3,236.3 L588.7,237.0 L590.0,237.8 L591.3,238.6 L592.7,239.3 L594.0,240.1 L595.3,240.9 L596.7,241.7 L598.0,242.5 L599.3,243.2 L600.7,244.0 L602.0,244.8 L603.3,245.6 L604.7,246.4 L606.0,247.2 L607.3,248.0 L608.7,248.8 L610.0,249.6 L611.3,250.4 L612.7,251.2 L614.0,252.0 L615.3,252.8 L616.7,253.6 L618.0,254.4 L619.3,255.2 L620.7,256.0 L622.0,256.9 L623.3,257.7 L624.7,258.5 L626.0,259.3 L627.3,260.2 L628.7,261.0 L630.0,261.8 L631.3,262.7 L632.7,263.5 L634.0,264.4 L635.3,265.2 L636.7,266.0 L638.0,266.9 L639.3,267.7 L640.7,268.6 L642.0,269.5 L643.3,270.3 L644.7,271.2 L646.0,272.0 L647.3,272.9 L648.7,273.8 L650.0,274.6 L651.3,275.5 L652.7,276.4 L654.0,277.3 L655.3,278.2 L656.7,279.0 L658.0,279.9 L659.3,280.8 L660.7,281.7 L662.0,282.6 L663.3,283.5 L664.7,284.4 L666.0,285.3 L667.3,286.2 L668.7,287.1 L670.0,288.0 L671.3,288.9 L672.7,289.9 L674.0,290.8 L675.3,291.7 L676.7,292.6 L678.0,293.5 L679.3,294.5 L680.7,295.4 L682.0,296.3 L683.3,297.3 L684.7,298.2 L686.0,299.2 L687.3,300.1 L688.7,301.1 L690.0,302.0 L691.3,303.0 L692.7,303.9 L694.0,304.9 L695.3,305.8 L696.7,306.8 L698.0,307.8 L699.3,308.8 L700.7,309.7 L702.0,310.7 L703.3,311.7 L704.7,312.7 L706.0,313.7 L707.3,314.6 L708.7,315.6 L710.0,316.6 L711.3,317.6 L712.7,318.6 L714.0,319.6 L715.3,320.6 L716.7,321.7 L718.0,322.7 L719.3,323.7 L720.7,324.7 L722.0,325.7 L723.3,326.8 L724.7,327.8 L726.0,328.8 L727.3,329.9 L728.7,330.9 L730.0,331.9 L731.3,333.0 L732.7,334.0 L734.0,335.1 L735.3,336.1 L736.7,337.2 L738.0,338.2 L739.3,339.3 L740.7,340.3 L742.0,341.4 L743.3,342.5 L744.7,343.5 L746.0,344.6 L747.3,345.7 L748.7,346.7 L750.0,347.8 L751.3,348.9 L752.7,350.0 L754.0,351.1 L755.3,352.1 L756.7,353.2 L758.0,354.3 L759.3,355.4 L760.7,356.5 L762.0,357.6 L763.3,358.7 L764.7,359.8 L766.0,360.9 L767.3,361.9 L768.7,363.0 L770.0,364.1 L771.3,365.2 L772.7,366.3 L774.0,367.4 L775.3,368.5 L776.7,369.6 L778.0,370.7 L779.3,371.9 L780.7,373.0 L782.0,374.1 L783.3,375.2 L784.7,376.3 L786.0,377.4 L787.3,378.5 L788.7,379.6 L790.0,380.7 L791.3,381.8 L792.7,382.9 L794.0,384.0 L795.3,385.2 L796.7,386.3 L798.0,387.4 L799.3,388.5 L800.7,389.6 L802.0,390.7 L803.3,391.8 L804.7,392.9 L806.0,394.0 L807.3,395.1 L808.7,396.3 L810.0,397.4 L811.3,398.5 L812.7,399.6 L814.0,400.7 L815.3,401.8 L816.7,402.9 L818.0,404.0 L819.3,405.2 L820.7,406.3 L822.0,407.4 L823.3,408.5 L824.7,409.6 L826.0,410.7 L827.3,411.9 L828.7,413.0 L830.0,414.1 L831.3,415.2 L832.7,416.3 L834.0,417.5 L835.3,418.6 L836.7,419.7 L838.0,420.8 L839.3,422.0 L840.7,423.1 L842.0,424.2 L843.3,425.4 L844.7,426.5 L846.0,427.6 L847.3,428.8 L848.7,429.9 L850.0,431.0 L851.3,432.2 L852.7,433.3 L854.0,434.5 L855.3,435.6 L856.7,436.8 L858.0,437.9 L859.3,439.1 L860.7,440.2 L862.0,441.4 L863.3,442.5 L864.7,443.7 L866.0,444.9 L867.3,446.0 L868.7,447.2 L870.0,448.4 L871.3,449.5 L872.7,450.7 L874.0,451.9 L875.3,453.1 L876.7,454.2 L878.0,455.4 L879.3,456.6 L880.7,457.8 L882.0,459.0 L883.3,460.2 L884.7,461.4 L886.0,462.6 L887.3,463.8 L888.7,465.0 L890.0,466.2 L891.3,467.4 L892.7,468.6 L894.0,469.8 L895.3,471.0 L896.7,472.2 L898.0,473.4 L899.3,474.6 L900.7,475.9 L902.0,477.1 L903.3,478.3 L904.7,479.5 L906.0,480.7 L907.3,482.0 L908.7,483.2 L910.0,484.4 L911.3,485.7 L912.7,486.9 L914.0,488.1 L915.3,489.3 L916.7,490.6 L918.0,491.8 L919.3,493.1 L920.7,494.3 L922.0,495.5 L923.3,496.8 L924.7,498.0 L926.0,499.2 L927.3,500.5 L928.7,501.7 L930.0,503.0 L931.3,504.2 L932.7,505.5 L934.0,506.7 L935.3,508.0 L936.7,509.2 L938.0,510.4 L939.3,511.7 L940.7,512.9 L942.0,514.2 L943.3,515.4 L944.7,516.7 L946.0,517.9 L947.3,519.2 L948.7,520.4 L950.0,521.7 L951.3,522.9 L952.7,524.2 L954.0,525.4 L955.3,526.7 L956.7,527.9 L958.0,529.2 L959.3,530.4 L960.7,531.7 L962.0,532.9 L963.3,534.2 L964.7,535.4 L966.0,536.6 L967.3,537.9 L968.7,539.1 L970.0,540.4 L971.3,541.6 L972.7,542.9 L974.0,544.1 L975.3,545.3 L976.7,546.6 L978.0,547.8 L979.3,549.1 L980.7,550.3 L982.0,551.5 L983.3,552.8 L984.7,554.0 L986.0,555.2 L987.3,556.5 L988.7,557.7 L990.0,558.9 L991.3,560.2 L992.7,561.4 L994.0,562.6 L995.3,563.8 L996.7,565.0 L998.0,566.3 L999.3,567.5 L1000.7,568.7 L1002.0,569.9 L1003.3,571.1 L1004.7,572.3 L1006.0,573.6 L1007.3,574.8 L1008.7,576.0 L1010.0,577.2 L1011.3,578.4 L1012.7,579.6 L1014.0,580.8 L1015.3,582.0 L1016.7,583.2 L1018.0,584.4 L1019.3,585.5 L1020.7,586.7 L1022.0,587.9 L1023.3,589.1 L1024.7,590.3 L1026.0,591.5 L1027.3,592.6 L1028.7,593.8 L1030.0,595.0 L1031.3,596.1 L1032.7,597.3 L1034.0,598.5 L1035.3,599.6 L1036.7,600.8 L1038.0,601.9 L1039.3,603.1 L1040.7,604.2 L1042.0,605.4 L1043.3,606.5 L1044.7,607.7 L1046.0,608.8 L1047.3,609.9 L1048.7,611.1 L1050.0,612.2 L1051.3,613.3 L1052.7,614.4 L1054.0,615.5 L1055.3,616.7 L1056.7,617.8 L1058.0,618.9 L1059.3,620.0 L1060.7,621.1 L1062.0,622.2 L1063.3,623.3 L1064.7,624.4 L1066.0,625.5 L1067.3,626.5 L1068.7,627.6 L1070.0,628.7 L1071.3,629.8 L1072.7,630.9 L1074.0,631.9 L1075.3,633.0 L1076.7,634.1 L1078.0,635.1 L1079.3,636.2 L1080.7,637.3 L1082.0,638.3 L1083.3,639.4 L1084.7,640.4 L1086.0,641.5 L1087.3,642.5 L1088.7,643.6 L1090.0,644.6 L1091.3,645.7 L1092.7,646.7 L1094.0,647.7 L1095.3,648.8 L1096.7,649.8 L1098.0,650.8 L1099.3,651.9 L1100.7,652.9 L1102.0,653.9 L1103.3,654.9 L1104.7,656.0 L1106.0,657.0 L1107.3,658.0 L1108.7,659.0 L1110.0,660.0 L1111.3,661.0 L1112.7,662.0 L1114.0,663.0 L1115.3,664.0 L1116.7,665.0 L1118.0,666.0 L1119.3,667.0 L1120.7,668.0 L1122.0,669.0 L1123.3,670.0 L1124.7,671.0 L1126.0,672.0 L1127.3,673.0 L1128.7,674.0 L1130.0,675.0 L1131.3,675.9 L1132.7,676.9 L1134.0,677.9 L1135.3,678.9 L1136.7,679.8 L1138.0,680.8 L1139.3,681.8 L1140.7,682.8 L1142.0,683.7 L1143.3,684.7 L1144.7,685.7 L1146.0,686.6 L1147.3,687.6 L1148.7,688.6 L1150.0,689.5 L1151.3,690.5 L1152.7,691.4 L1154.0,692.4 L1155.3,693.4 L1156.7,694.3 L1158.0,695.3 L1159.3,696.2 L1160.7,697.2 L1162.0,698.1 L1163.3,699.1 L1164.7,700.0 L1166.0,701.0 L1167.3,701.9 L1168.7,702.8 L1170.0,703.8 L1171.3,704.7 L1172.7,705.7 L1174.0,706.6 L1175.3,707.6 L1176.7,708.5 L1178.0,709.4 L1179.3,710.4 L1180.7,711.3 L1182.0,712.3 L1183.3,713.2 L1184.7,714.1 L1186.0,715.1 L1187.3,716.0 L1188.7,716.9 L1190.0,717.8 L1191.3,718.8 L1192.7,719.7 L1194.0,720.6 L1195.3,721.5 L1196.7,722.5 L1198.0,723.4 L1199.3,724.3 L1200.7,725.2 L1202.0,726.1 L1203.3,727.0 L1204.7,727.9 L1206.0,728.9 L1207.3,729.8 L1208.7,730.7 L1210.0,731.6 L1211.3,732.5 L1212.7,733.3 L1214.0,734.2 L1215.3,735.1 L1216.7,736.0 L1218.0,736.9 L1219.3,737.8 L1220.7,738.6 L1222.0,739.5 L1223.3,740.4 L1224.7,741.2 L1226.0,742.1 L1227.3,743.0 L1228.7,743.8 L1230.0,744.7 L1231.3,745.5 L1232.7,746.4 L1234.0,747.2 L1235.3,748.0 L1236.7,748.9 L1238.0,749.7 L1239.3,750.5 L1240.7,751.3 L1242.0,752.1 L1243.3,752.9 L1244.7,753.7 L1246.0,754.5 L1247.3,755.3 L1248.7,756.1 L1250.0,756.9 L1251.3,757.7 L1252.7,758.5 L1254.0,759.2 L1255.3,760.0 L1256.7,760.8 L1258.0,761.5 L1259.3,762.3 L1260.7,763.0 L1262.0,763.8 L1263.3,764.5 L1264.7,765.2 L1266.0,766.0 L1267.3,766.7 L1268.7,767.4 L1270.0,768.2 L1271.3,768.9 L1272.7,769.6 L1274.0,770.4 L1275.3,771.1 L1276.7,771.8 L1278.0,772.5 L1279.3,773.3 L1280.7,774.0 L1282.0,774.7 L1283.3,775.4 L1284.7,776.2 L1286.0,776.9 L1287.3,777.6 L1288.7,778.4 L1290.0,779.1 L1291.3,779.8 L1292.5,780.5 L1293.8,781.2 L1295.0,781.9 L1296.4,782.7 L1298.0,783.6 L1299.6,784.5 L1301.2,785.5 L1302.9,786.5 L1304.9,787.6 L1307.2,789.0 L1310.0,790.7 L1313.4,792.7 L1317.4,795.1 L1321.7,797.7 L1326.3,800.4 L1330.8,803.1 L1335.1,805.7 L1339.2,808.3 L1343.2,811.0 L1347.2,813.6 L1351.3,816.3 L1355.6,818.9 L1360.1,821.4 L1365.1,823.8 L1370.5,826.2 L1376.1,828.5 L1381.7,830.8 L1386.8,832.9 L1391.4,834.8 L1395.3,836.5 L1398.6,837.9 L1401.6,839.1 L1404.4,840.4 L1407.2,841.7 L1410.2,843.3 L1413.3,845.0 L1416.5,846.8 L1419.6,848.7 L1422.7,850.7 L1425.9,852.9 L1429.0,855.2 L1432.1,857.8 L1435.3,860.6 L1438.4,863.5 L1441.5,866.6 L1444.7,869.6 L1447.8,872.7 L1450.9,875.7 L1453.9,878.6 L1456.9,881.6 L1460.0,884.7 L1463.2,888.0 L1466.6,891.5 L1470.3,895.5 L1474.2,899.8 L1478.2,904.4 L1482.3,908.9 L1486.2,913.3 L1490.0,917.2 L1493.6,920.9 L1497.0,924.6 L1500.4,928.1 L1503.7,931.2 L1507.0,933.8 L1510.3,935.6 L1513.7,936.5 L1517.1,936.7 L1520.5,936.3 L1523.9,935.6 L1527.2,934.9 L1530.3,934.4 L1533.3,934.2 L1536.1,934.1 L1538.9,934.0 L1541.6,933.6 L1544.3,933.0 L1547.0,931.9 L1549.7,930.2 L1552.3,928.0 L1554.9,925.5 L1557.6,922.8 L1560.5,920.1 L1563.7,917.7 L1567.3,915.2 L1571.2,912.4 L1575.3,909.7 L1579.4,907.3 L1583.4,905.4 L1587.1,904.4 L1590.5,904.3 L1593.7,905.0 L1596.7,906.3 L1599.7,907.9 L1602.6,909.9 L1605.5,911.9 L1608.4,914.1 L1611.2,916.5 L1614.0,919.2 L1616.7,922.1 L1619.4,925.3 L1622.2,928.6 L1625.0,932.3 L1627.8,936.3 L1630.6,940.6 L1633.3,944.9 L1636.1,949.0 L1638.9,952.8 L1641.7,956.2 L1644.6,959.3 L1647.4,962.3 L1650.3,965.2 L1653.0,968.1 L1655.6,971.2 L1658.1,974.5 L1660.6,977.9 L1662.9,981.4 L1665.2,984.9 L1667.3,988.2 L1669.2,991.2 L1670.9,993.9 L1672.4,996.2 L1673.7,998.4 L1674.9,1000.6 L1676.1,1003.0 L1677.3,1005.8 L1678.5,1009.1 L1679.6,1012.8 L1680.6,1016.8 L1681.7,1020.7 L1682.7,1024.4 L1683.8,1027.7 L1684.8,1030.5 L1685.8,1033.0 L1686.8,1035.3 L1687.9,1037.5 L1689.0,1039.8 L1690.4,1042.3 L1692.0,1045.1 L1693.8,1048.0 L1695.8,1051.0 L1697.7,1054.0 L1699.6,1056.9 L1701.4,1059.8 L1703.0,1062.6 L1704.4,1065.4 L1705.8,1068.2 L1707.2,1070.9 L1708.6,1073.5 L1710.2,1075.9 L1711.9,1078.0 L1713.7,1079.9 L1715.6,1081.7 L1717.5,1083.4 L1719.3,1085.4 L1721.1,1087.6 L1722.8,1090.2 L1724.4,1093.1 L1726.0,1096.1 L1727.5,1099.2 L1729.1,1102.3 L1730.6,1105.2 L1732.1,1108.0 L1733.5,1110.9 L1734.9,1113.7 L1736.3,1116.4 L1737.8,1118.9 L1739.4,1121.2 L1741.1,1123.4 L1743.0,1125.6 L1745.0,1127.5 L1746.9,1129.2 L1748.7,1130.3 L1750.3,1130.7 L1751.6,1130.4 L1752.8,1129.5 L1753.8,1128.0 L1754.8,1126.1 L1755.8,1123.8 L1756.9,1121.2 L1758.1,1118.1 L1759.3,1114.5 L1760.5,1110.5 L1761.7,1106.3 L1763.0,1102.0 L1764.2,1097.8 L1765.4,1093.5 L1766.6,1089.0 L1767.8,1084.5 L1769.0,1079.9 L1770.2,1075.6 L1771.5,1071.5 L1772.9,1067.7 L1774.3,1063.9 L1775.8,1060.4 L1777.3,1057.0 L1778.8,1053.9 L1780.3,1051.1 L1781.7,1048.6 L1783.1,1046.4 L1784.5,1044.5 L1786.0,1042.8 L1787.5,1041.1 L1789.1,1039.4 L1790.9,1037.8 L1792.9,1036.3 L1795.0,1034.8 L1797.0,1033.4 L1799.0,1032.0 L1800.8,1030.6 L1802.4,1029.2 L1803.9,1027.9 L1805.3,1026.6 L1806.7,1025.3 L1808.1,1023.7 L1809.5,1021.8 L1810.9,1019.5 L1812.3,1016.8 L1813.7,1014.0 L1815.1,1011.1 L1816.7,1008.3 L1818.3,1005.8 L1820.1,1003.5 L1822.1,1001.2 L1824.2,999.0 L1826.3,997.1 L1828.3,995.4 L1830.0,994.1 L1831.4,993.1 L1832.7,992.3 L1833.7,991.8 L1834.8,991.6 L1836.0,991.9 L1837.3,992.6 L1838.8,994.0 L1840.4,995.9 L1842.1,998.3 L1843.8,1000.9 L1845.6,1003.5 L1847.5,1005.8 L1849.6,1008.0 L1852.0,1010.4 L1854.4,1012.7 L1856.7,1014.9 L1858.6,1016.7 L1860.0,1018.0" fill="none" stroke="#808000" stroke-width="12" stroke-linejoin="round" stroke-linecap="butt"/>
<path d="M322.0,156.2 L322.9,156.2 L324.1,156.2 L325.5,156.1 L327.0,156.1 L328.6,156.1 L330.0,156.1 L331.3,156.1 L332.7,156.1 L334.0,156.1 L335.3,156.2 L336.7,156.2 L338.0,156.2 L339.3,156.3 L340.7,156.3 L342.0,156.4 L343.3,156.5 L344.7,156.6 L346.0,156.6 L347.3,156.7 L348.7,156.8 L350.0,156.9 L351.3,157.0 L352.7,157.1 L354.0,157.3 L355.3,157.4 L356.7,157.5 L358.0,157.7 L359.3,157.8 L360.7,158.0 L362.0,158.2 L363.3,158.3 L364.7,158.5 L366.0,158.7 L367.3,158.9 L368.7,159.1 L370.0,159.3 L371.3,159.5 L372.7,159.7 L374.0,159.9 L375.3,160.1 L376.7,160.4 L378.0,160.6 L379.3,160.9 L380.7,161.1 L382.0,161.4 L383.3,161.7 L384.7,161.9 L386.0,162.2 L387.3,162.5 L388.7,162.8 L390.0,163.1 L391.3,163.4 L392.7,163.7 L394.0,164.0 L395.3,164.4 L396.7,164.7 L398.0,165.0 L399.3,165.4 L400.7,165.7 L402.0,166.1 L403.3,166.4 L404.7,166.8 L406.0,167.2 L407.3,167.6 L408.7,168.0 L410.0,168.4 L411.3,168.8 L412.7,169.2 L414.0,169.6 L415.3,170.0 L416.7,170.4 L418.0,170.8 L419.3,171.3 L420.7,171.7 L422.0,172.2 L423.3,172.6 L424.7,173.1 L426.0,173.6 L427.3,174.0 L428.7,174.5 L430.0,175.0 L431.3,175.5 L432.7,176.0 L434.0,176.5 L435.3,177.0 L436.7,177.5 L438.0,178.0 L439.3,178.6 L440.7,179.1 L442.0,179.6 L443.3,180.2 L444.7,180.7 L446.0,181.3 L447.3,181.9 L448.7,182.4 L450.0,183.0 L451.3,183.6 L452.7,184.2 L454.0,184.8 L455.3,185.4 L456.7,186.0 L458.0,186.6 L459.3,187.2 L460.7,187.8 L462.0,188.4 L463.3,189.1 L464.7,189.7 L466.0,190.3 L467.3,191.0 L468.7,191.6 L470.0,192.3 L471.3,193.0 L472.7,193.6 L474.0,194.3 L475.3,195.0 L476.7,195.7 L478.0,196.4 L479.3,197.1 L480.7,197.8 L482.0,198.5 L483.3,199.2 L484.7,199.9 L486.0,200.7 L487.3,201.4 L488.7,202.1 L490.0,202.9 L491.3,203.6 L492.7,204.4 L494.0,205.1 L495.3,205.9 L496.7,206.7 L498.0,207.5 L499.3,208.2 L500.7,209.0 L502.0,209.8 L503.3,210.6 L504.7,211.4 L506.0,212.2 L507.3,213.0 L508.7,213.9 L510.0,214.7 L511.3,215.5 L512.7,216.4 L514.0,217.2 L515.3,218.0 L516.7,218.9 L518.0,219.7 L519.3,220.6 L520.7,221.5 L522.0,222.3 L523.3,223.2 L524.7,224.1 L526.0,225.0 L527.3,225.9 L528.7,226.8 L530.0,227.7 L531.3,228.6 L532.7,229.5 L534.0,230.4 L535.3,231.3 L536.7,232.3 L538.0,233.2 L539.3,234.1 L540.7,235.1 L542.0,236.0 L543.3,237.0 L544.7,237.9 L546.0,238.9 L547.3,239.9 L548.7,240.9 L550.0,241.8 L551.3,242.8 L552.7,243.8 L554.0,244.8 L555.3,245.8 L556.7,246.8 L558.0,247.8 L559.3,248.8 L560.7,249.8 L562.0,250.8 L563.3,251.9 L564.7,252.9 L566.0,253.9 L567.3,255.0 L568.7,256.0 L570.0,257.1 L571.3,258.1 L572.7,259.2 L574.0,260.3 L575.3,261.3 L576.7,262.4 L578.0,263.5 L579.3,264.6 L580.7,265.6 L582.0,266.7 L583.3,267.8 L584.7,268.9 L586.0,270.0 L587.3,271.2 L588.7,272.3 L590.0,273.4 L591.3,274.5 L592.7,275.6 L594.0,276.8 L595.3,277.9 L596.7,279.0 L598.0,280.2 L599.3,281.3 L600.7,282.5 L602.0,283.6 L603.3,284.8 L604.7,286.0 L606.0,287.1 L607.3,288.3 L608.7,289.5 L610.0,290.7 L611.3,291.8 L612.7,293.0 L614.0,294.2 L615.3,295.4 L616.7,296.6 L618.0,297.8 L619.3,299.0 L620.7,300.2 L622.0,301.4 L623.3,302.7 L624.7,303.9 L626.0,305.1 L627.3,306.3 L628.7,307.5 L630.0,308.8 L631.3,310.0 L632.7,311.3 L634.0,312.5 L635.3,313.7 L636.7,315.0 L638.0,316.2 L639.3,317.5 L640.7,318.8 L642.0,320.0 L643.3,321.3 L644.7,322.5 L646.0,323.8 L647.3,325.1 L648.7,326.4 L650.0,327.6 L651.3,328.9 L652.7,330.2 L654.0,331.5 L655.3,332.8 L656.7,334.1 L658.0,335.4 L659.3,336.7 L660.7,337.9 L662.0,339.2 L663.3,340.6 L664.7,341.9 L666.0,343.2 L667.3,344.5 L668.7,345.8 L670.0,347.1 L671.3,348.4 L672.7,349.7 L674.0,351.1 L675.3,352.4 L676.7,353.7 L678.0,355.0 L679.3,356.4 L680.7,357.7 L682.0,359.0 L683.3,360.4 L684.7,361.7 L686.0,363.0 L687.3,364.4 L688.7,365.7 L690.0,367.1 L691.3,368.4 L692.7,369.8 L694.0,371.1 L695.3,372.5 L696.7,373.8 L698.0,375.2 L699.3,376.5 L700.7,377.9 L702.0,379.2 L703.3,380.6 L704.7,381.9 L706.0,383.3 L707.3,384.7 L708.7,386.0 L710.0,387.4 L711.3,388.8 L712.7,390.1 L714.0,391.5 L715.3,392.9 L716.7,394.2 L718.0,395.6 L719.3,397.0 L720.7,398.4 L722.0,399.7 L723.3,401.1 L724.7,402.5 L726.0,403.9 L727.3,405.2 L728.7,406.6 L730.0,408.0 L731.3,409.4 L732.7,410.8 L734.0,412.1 L735.3,413.5 L736.7,414.9 L738.0,416.3 L739.3,417.7 L740.7,419.0 L742.0,420.4 L743.3,421.8 L744.7,423.2 L746.0,424.6 L747.3,426.0 L748.7,427.4 L750.0,428.7 L751.3,430.1 L752.7,431.5 L754.0,432.9 L755.3,434.3 L756.7,435.7 L758.0,437.1 L759.3,438.5 L760.7,440.0 L762.0,441.4 L763.3,442.8 L764.7,444.2 L766.0,445.6 L767.3,447.1 L768.7,448.5 L770.0,449.9 L771.3,451.4 L772.7,452.8 L774.0,454.3 L775.3,455.7 L776.7,457.2 L778.0,458.7 L779.3,460.1 L780.7,461.6 L782.0,463.1 L783.3,464.6 L784.7,466.1 L786.0,467.6 L787.3,469.1 L788.7,470.6 L790.0,472.2 L791.3,473.7 L792.7,475.3 L794.0,476.8 L795.3,478.4 L796.7,479.9 L798.0,481.5 L799.3,483.1 L800.7,484.7 L802.0,486.3 L803.3,487.9 L804.7,489.5 L806.0,491.1 L807.3,492.7 L808.7,494.4 L810.0,496.0 L811.3,497.6 L812.7,499.2 L814.0,500.9 L815.3,502.5 L816.7,504.1 L818.0,505.7 L819.3,507.4 L820.7,509.0 L822.0,510.6 L823.3,512.2 L824.7,513.8 L826.0,515.5 L827.3,517.1 L828.7,518.7 L830.0,520.3 L831.3,521.9 L832.7,523.5 L834.0,525.1 L835.3,526.6 L836.7,528.2 L838.0,529.8 L839.3,531.4 L840.7,533.0 L842.0,534.5 L843.3,536.1 L844.7,537.7 L846.0,539.2 L847.3,540.8 L848.7,542.3 L850.0,543.9 L851.3,545.4 L852.7,547.0 L854.0,548.5 L855.3,550.1 L856.7,551.6 L858.0,553.1 L859.3,554.7 L860.7,556.2 L862.0,557.7 L863.3,559.2 L864.7,560.8 L866.0,562.3 L867.3,563.8 L868.7,565.3 L870.0,566.8 L871.3,568.3 L872.7,569.8 L874.0,571.3 L875.3,572.8 L876.7,574.3 L878.0,575.8 L879.3,577.2 L880.7,578.7 L882.0,580.2 L883.3,581.7 L884.7,583.1 L886.0,584.6 L887.3,586.1 L888.7,587.5 L890.0,589.0 L891.3,590.4 L892.7,591.9 L894.0,593.3 L895.3,594.8 L896.7,596.2 L898.0,597.7 L899.3,599.1 L900.7,600.5 L902.0,602.0 L903.3,603.4 L904.7,604.8 L906.0,606.3 L907.3,607.7 L908.7,609.1 L910.0,610.5 L911.3,611.9 L912.7,613.3 L914.0,614.7 L915.3,616.1 L916.7,617.5 L918.0,618.9 L919.3,620.3 L920.7,621.7 L922.0,623.1 L923.3,624.5 L924.7,625.8 L926.0,627.2 L927.3,628.6 L928.7,630.0 L930.0,631.3 L931.3,632.7 L932.7,634.1 L934.0,635.4 L935.3,636.8 L936.7,638.1 L938.0,639.5 L939.3,640.8 L940.7,642.2 L942.0,643.5 L943.3,644.8 L944.7,646.2 L946.0,647.5 L947.3,648.8 L948.7,650.1 L950.0,651.5 L951.3,652.8 L952.7,654.1 L954.0,655.4 L955.3,656.7 L956.7,658.0 L958.0,659.3 L959.3,660.6 L960.7,661.9 L962.0,663.2 L963.3,664.5 L964.7,665.8 L966.0,667.1 L967.3,668.3 L968.7,669.6 L970.0,670.9 L971.3,672.2 L972.7,673.4 L974.0,674.7 L975.3,676.0 L976.7,677.2 L978.0,678.5 L979.3,679.8 L980.7,681.0 L982.0,682.3 L983.3,683.5 L984.7,684.8 L986.0,686.0 L987.3,687.3 L988.7,688.5 L990.0,689.8 L991.3,691.0 L992.7,692.2 L994.0,693.5 L995.3,694.7 L996.7,696.0 L998.0,697.2 L999.3,698.4 L1000.7,699.7 L1002.0,700.9 L1003.3,702.1 L1004.7,703.4 L1006.0,704.6 L1007.3,705.8 L1008.7,707.0 L1010.0,708.3 L1011.3,709.5 L1012.7,710.7 L1014.0,712.0 L1015.3,713.2 L1016.7,714.4 L1018.0,715.6 L1019.3,716.9 L1020.7,718.1 L1022.0,719.3 L1023.3,720.5 L1024.7,721.8 L1026.0,723.0 L1027.3,724.2 L1028.7,725.5 L1030.0,726.7 L1031.3,727.9 L1032.7,729.2 L1034.0,730.4 L1035.3,731.6 L1036.7,732.8 L1038.0,734.1 L1039.3,735.3 L1040.7,736.6 L1042.0,737.8 L1043.3,739.0 L1044.7,740.3 L1046.0,741.5 L1047.3,742.7 L1048.7,744.0 L1050.0,745.2 L1051.3,746.5 L1052.7,747.7 L1054.0,749.0 L1055.3,750.2 L1056.7,751.4 L1058.0,752.7 L1059.3,753.9 L1060.7,755.2 L1062.0,756.4 L1063.3,757.7 L1064.7,758.9 L1066.0,760.2 L1067.3,761.4 L1068.7,762.7 L1070.0,763.9 L1071.3,765.1 L1072.7,766.4 L1074.0,767.6 L1075.3,768.9 L1076.7,770.1 L1078.0,771.4 L1079.3,772.6 L1080.7,773.9 L1082.0,775.1 L1083.3,776.3 L1084.7,777.6 L1086.0,778.8 L1087.3,780.1 L1088.7,781.3 L1090.0,782.5 L1091.3,783.8 L1092.7,785.0 L1094.0,786.3 L1095.3,787.5 L1096.7,788.7 L1098.0,790.0 L1099.3,791.2 L1100.7,792.4 L1102.0,793.7 L1103.3,794.9 L1104.7,796.1 L1106.0,797.3 L1107.3,798.6 L1108.7,799.8 L1110.0,801.0 L1111.3,802.2 L1112.7,803.4 L1114.0,804.6 L1115.3,805.9 L1116.7,807.1 L1118.0,808.3 L1119.3,809.5 L1120.7,810.7 L1122.0,811.9 L1123.3,813.1 L1124.7,814.3 L1126.0,815.5 L1127.3,816.7 L1128.7,817.9 L1130.0,819.1 L1131.3,820.2 L1132.7,821.4 L1134.0,822.6 L1135.3,823.8 L1136.7,825.0 L1138.0,826.1 L1139.3,827.3 L1140.7,828.5 L1142.0,829.6 L1143.3,830.8 L1144.7,832.0 L1146.0,833.1 L1147.3,834.3 L1148.7,835.4 L1150.0,836.6 L1151.3,837.7 L1152.7,838.9 L1154.0,840.0 L1155.3,841.1 L1156.7,842.3 L1158.0,843.4 L1159.3,844.5 L1160.7,845.6 L1162.0,846.7 L1163.3,847.9 L1164.7,849.0 L1166.0,850.1 L1167.3,851.2 L1168.7,852.3 L1170.0,853.4 L1171.3,854.5 L1172.7,855.5 L1174.0,856.6 L1175.3,857.7 L1176.7,858.8 L1178.0,859.9 L1179.3,860.9 L1180.7,862.0 L1182.0,863.0 L1183.3,864.1 L1184.7,865.2 L1186.0,866.2 L1187.3,867.2 L1188.7,868.3 L1190.0,869.3 L1191.3,870.3 L1192.7,871.4 L1194.0,872.4 L1195.3,873.4 L1196.7,874.4 L1198.0,875.4 L1199.3,876.4 L1200.7,877.4 L1202.0,878.4 L1203.3,879.4 L1204.7,880.4 L1206.0,881.3 L1207.3,882.3 L1208.7,883.3 L1210.0,884.2 L1211.3,885.2 L1212.7,886.2 L1214.0,887.1 L1215.3,888.0 L1216.7,889.0 L1218.0,889.9 L1219.3,890.8 L1220.7,891.7 L1222.0,892.7 L1223.3,893.6 L1224.7,894.5 L1226.0,895.4 L1227.3,896.3 L1228.7,897.1 L1230.0,898.0 L1231.3,898.9 L1232.7,899.8 L1234.0,900.6 L1235.3,901.5 L1236.7,902.3 L1238.0,903.2 L1239.3,904.0 L1240.7,904.9 L1242.0,905.7 L1243.3,906.5 L1244.7,907.3 L1246.0,908.1 L1247.3,908.9 L1248.7,909.7 L1250.0,910.5 L1251.3,911.3 L1252.7,912.1 L1254.0,912.8 L1255.3,913.6 L1256.7,914.3 L1258.0,915.1 L1259.3,915.8 L1260.7,916.6 L1262.0,917.3 L1263.3,918.0 L1264.7,918.7 L1266.0,919.5 L1267.1,920.0 L1268.0,920.5 L1269.0,920.9 L1270.1,921.5 L1271.7,922.4 L1274.0,923.7 L1277.2,925.6 L1281.2,928.0 L1285.7,930.7 L1290.4,933.4 L1294.8,936.0 L1298.8,938.2 L1302.3,939.8 L1305.5,941.1 L1308.6,942.1 L1311.6,943.2 L1314.5,944.6 L1317.6,946.3 L1320.8,948.6 L1324.0,951.3 L1327.2,954.2 L1330.3,957.2 L1333.4,960.0 L1336.4,962.6 L1339.3,964.9 L1342.1,967.1 L1344.8,969.1 L1347.5,971.1 L1350.1,972.9 L1352.7,974.5 L1355.2,975.8 L1357.7,976.7 L1360.0,977.5 L1362.5,978.4 L1365.0,979.6 L1367.7,981.4 L1370.7,983.9 L1373.9,986.9 L1377.3,990.2 L1380.6,993.7 L1383.7,997.1 L1386.5,1000.2 L1388.9,1003.1 L1391.1,1005.9 L1393.1,1008.6 L1395.1,1011.3 L1397.0,1013.9 L1399.0,1016.5 L1401.1,1019.1 L1403.2,1021.8 L1405.2,1024.4 L1407.3,1026.9 L1409.4,1029.3 L1411.5,1031.5 L1413.5,1033.5 L1415.5,1035.4 L1417.4,1037.2 L1419.4,1038.9 L1421.6,1040.5 L1424.1,1042.2 L1426.8,1043.8 L1429.7,1045.4 L1432.8,1046.9 L1436.0,1048.4 L1439.4,1049.9 L1442.8,1051.5 L1446.4,1053.1 L1450.3,1054.9 L1454.4,1056.6 L1458.3,1058.3 L1462.1,1059.8 L1465.5,1061.1 L1468.6,1062.2 L1471.4,1063.1 L1474.0,1063.8 L1476.5,1064.5 L1478.8,1064.9 L1481.0,1065.2 L1483.0,1065.4 L1484.8,1065.4 L1486.5,1065.3 L1488.1,1065.0 L1489.6,1064.5 L1491.3,1063.7 L1493.1,1062.6 L1494.9,1061.3 L1496.8,1059.7 L1498.5,1057.9 L1500.2,1056.2 L1501.7,1054.4 L1503.0,1052.7 L1504.0,1050.9 L1504.9,1049.0 L1505.8,1047.1 L1506.8,1045.1 L1507.9,1043.0 L1509.1,1040.8 L1510.5,1038.5 L1511.9,1036.1 L1513.3,1033.7 L1514.7,1031.2 L1516.1,1028.6 L1517.5,1025.9 L1518.9,1023.1 L1520.2,1020.2 L1521.6,1017.4 L1523.0,1014.6 L1524.4,1012.0 L1525.8,1009.5 L1527.1,1007.2 L1528.4,1004.9 L1529.8,1002.7 L1531.2,1000.6 L1532.7,998.6 L1534.3,996.6 L1535.9,994.7 L1537.7,992.9 L1539.4,991.2 L1541.2,989.6 L1543.0,988.2 L1544.9,986.9 L1546.8,985.6 L1548.8,984.4 L1550.7,983.5 L1552.6,982.8 L1554.4,982.6 L1556.1,982.8 L1557.6,983.3 L1559.1,984.2 L1560.6,985.3 L1562.1,986.7 L1563.7,988.2 L1565.4,990.0 L1567.1,992.0 L1568.9,994.3 L1570.7,996.8 L1572.4,999.2 L1574.0,1001.7 L1575.5,1004.2 L1577.0,1006.7 L1578.3,1009.3 L1579.7,1012.0 L1581.0,1014.6 L1582.3,1017.2 L1583.6,1019.8 L1584.8,1022.5 L1586.0,1025.1 L1587.1,1027.8 L1588.3,1030.3 L1589.5,1032.7 L1590.7,1035.0 L1591.9,1037.1 L1593.1,1039.2 L1594.3,1041.2 L1595.5,1043.1 L1596.8,1045.1 L1598.1,1047.1 L1599.5,1049.0 L1600.8,1050.9 L1602.2,1052.8 L1603.6,1054.7 L1605.0,1056.5 L1606.4,1058.3 L1607.9,1060.2 L1609.3,1062.1 L1610.8,1063.8 L1612.1,1065.4 L1613.3,1066.8 L1614.3,1068.0 L1615.2,1069.1 L1616.0,1070.0 L1616.7,1070.8 L1617.6,1071.2 L1618.5,1071.4 L1619.6,1071.2 L1620.7,1070.8 L1621.9,1070.0 L1623.1,1069.1 L1624.4,1068.0 L1625.7,1066.8 L1627.0,1065.5 L1628.5,1064.0 L1629.9,1062.3 L1631.3,1060.5 L1632.7,1058.6 L1634.0,1056.5 L1635.2,1054.3 L1636.2,1051.8 L1637.2,1049.3 L1638.2,1046.6 L1639.2,1043.8 L1640.2,1041.0 L1641.2,1038.1 L1642.1,1035.2 L1643.0,1032.1 L1644.0,1029.0 L1645.1,1025.8 L1646.4,1022.4 L1647.8,1019.1 L1649.3,1015.9 L1650.9,1012.5 L1652.7,1008.9 L1654.6,1004.8 L1656.7,1000.0 L1659.1,994.3 L1661.8,987.8 L1664.6,980.9 L1667.4,973.8 L1670.2,966.8 L1672.6,960.4 L1674.8,954.4 L1676.7,948.5 L1678.6,942.8 L1680.4,937.3 L1682.1,932.0 L1683.8,927.0 L1685.4,922.3 L1686.8,917.7 L1688.1,913.5 L1689.6,909.4 L1691.3,905.6 L1693.5,902.0 L1696.2,898.5 L1699.3,894.9 L1702.6,891.6 L1706.2,888.7 L1709.9,886.6 L1713.5,885.3 L1717.2,885.2 L1721.0,886.1 L1725.0,887.7 L1729.0,889.6 L1733.0,891.6 L1736.9,893.1 L1740.9,894.5 L1745.0,896.0 L1749.1,897.6 L1753.1,898.9 L1756.9,899.9 L1760.3,900.3 L1763.3,900.3 L1766.0,899.9 L1768.5,899.2 L1770.9,898.1 L1773.1,896.5 L1775.3,894.4 L1777.4,891.7 L1779.3,888.4 L1781.0,884.6 L1782.9,880.5 L1784.8,876.2 L1787.0,871.9 L1789.5,867.4 L1792.2,862.6 L1795.0,857.6 L1797.9,852.5 L1800.9,847.5 L1803.7,842.7 L1806.6,837.9 L1809.6,833.0 L1812.6,828.2 L1815.5,823.6 L1818.1,819.5 L1820.4,816.0 L1822.2,813.4 L1823.6,811.5 L1824.7,810.0 L1825.8,808.8 L1827.0,807.5 L1828.6,805.9 L1830.6,803.9 L1832.8,801.6 L1835.2,799.3 L1837.6,797.0 L1839.8,795.1 L1841.8,793.6 L1843.4,792.6 L1844.8,792.0 L1846.1,791.6 L1847.3,791.5 L1848.6,791.4 L1850.1,791.3 L1851.9,791.3 L1853.9,791.3 L1856.1,791.5 L1858.1,791.7 L1859.8,791.9 L1861.0,792.0" fill="none" stroke="#ff00ff" stroke-width="12" stroke-linejoin="round" stroke-linecap="butt"/>
<path d="M322,431.5H379 M405,431.5H462 M489,431.5H546 M572,431.5H629 M655,431.5H712 M738,431.5H795 M822,431.5H879 M905,431.5H962 M988,431.5H1045 M1072,431.5H1129 M1155,431.5H1212 M1238,431.5H1295 M1321,431.5H1378 M1405,431.5H1462 M1488,431.5H1545 M1571,431.5H1628 M1654,431.5H1711 M1738,431.5H1795 M1821,431.5H1860" stroke="#0000ff" stroke-width="11" fill="none"/>
<path d="M447,685.0H630" stroke="#0000a0" stroke-width="12"/>
<path d="M447,784.0H630" stroke="#008040" stroke-width="12"/>
<path d="M447,884.0H630" stroke="#808000" stroke-width="12"/>
<path d="M447,984.0H630" stroke="#ff00ff" stroke-width="12"/>
<text x="252" y="188.5" text-anchor="end" style="font-family:'Liberation Serif',serif;font-size:87.5px">0</text>
<text x="252" y="420.5" text-anchor="end" style="font-family:'Liberation Serif',serif;font-size:87.5px">-5</text>
<text x="252" y="647.5" text-anchor="end" style="font-family:'Liberation Serif',serif;font-size:87.5px">-10</text>
<text x="252" y="875.5" text-anchor="end" style="font-family:'Liberation Serif',serif;font-size:87.5px">-15</text>
<text x="252" y="1107.5" text-anchor="end" style="font-family:'Liberation Serif',serif;font-size:87.5px">-20</text>
<text x="319.2" y="1281.5" text-anchor="middle" style="font-family:'Liberation Serif',serif;font-size:87.5px">0</text>
<text x="508.4" y="1281.5" text-anchor="middle" style="font-family:'Liberation Serif',serif;font-size:87.5px">5</text>
<text x="709.5" y="1281.5" text-anchor="middle" style="font-family:'Liberation Serif',serif;font-size:87.5px">10</text>
<text x="899.8" y="1281.5" text-anchor="middle" style="font-family:'Liberation Serif',serif;font-size:87.5px">15</text>
<text x="1085.4" y="1281.5" text-anchor="middle" style="font-family:'Liberation Serif',serif;font-size:87.5px">20</text>
<text x="1279.8" y="1281.5" text-anchor="middle" style="font-family:'Liberation Serif',serif;font-size:87.5px">25</text>
<text x="1473.2" y="1281.5" text-anchor="middle" style="font-family:'Liberation Serif',serif;font-size:87.5px">30</text>
<text x="1666.0" y="1281.5" text-anchor="middle" style="font-family:'Liberation Serif',serif;font-size:87.5px">35</text>
<text x="1859.6" y="1281.5" text-anchor="middle" style="font-family:'Liberation Serif',serif;font-size:87.5px">40</text>
<text x="795" y="1381" style="font-family:'Liberation Serif',serif;font-size:87.3px">Frequency (GHz)</text>
<text transform="translate(100.9,926.5) rotate(-90)" style="font-family:'Liberation Serif',serif;font-size:86.5px">S</text>
<text transform="translate(117.7,878.7) rotate(-90)" style="font-family:'Liberation Serif',serif;font-size:68.6px">21</text>
<text transform="translate(100.9,782) rotate(-90)" style="font-family:'Liberation Serif',serif;font-size:86.2px">of Fiber (dBe)</text>
<text transform="translate(0,709.7) scale(0.9733,1)" style="font-family:'Liberation Serif',serif;font-size:75px"><tspan x="692.8">1</tspan><tspan x="724.3">0</tspan><tspan x="759.5">0</tspan><tspan x="795.3"> m</tspan></text>
<text transform="translate(0,808.9) scale(0.9733,1)" style="font-family:'Liberation Serif',serif;font-size:75px"><tspan x="689.2">2</tspan><tspan x="724.3">0</tspan><tspan x="759.5">0</tspan><tspan x="795.3"> m</tspan></text>
<text transform="translate(0,909.2) scale(0.9733,1)" style="font-family:'Liberation Serif',serif;font-size:75px"><tspan x="689.3">3</tspan><tspan x="724.3">0</tspan><tspan x="759.5">0</tspan><tspan x="795.3"> m</tspan></text>
<text transform="translate(0,1008.3) scale(0.9733,1)" style="font-family:'Liberation Serif',serif;font-size:75px"><tspan x="689.8">4</tspan><tspan x="724.3">0</tspan><tspan x="759.5">0</tspan><tspan x="795.3"> m</tspan></text>
<text x="1561" y="619" style="font-family:'Liberation Sans',sans-serif;font-size:73px">-6 <tspan dx="-3.2">d</tspan><tspan dx="-2">B</tspan>e</text>
<polygon points="1602,474 1638,493 1628,501 1643,523 1634,529 1619,507 1608,514" fill="#000"/>
</svg>
</body></html>
